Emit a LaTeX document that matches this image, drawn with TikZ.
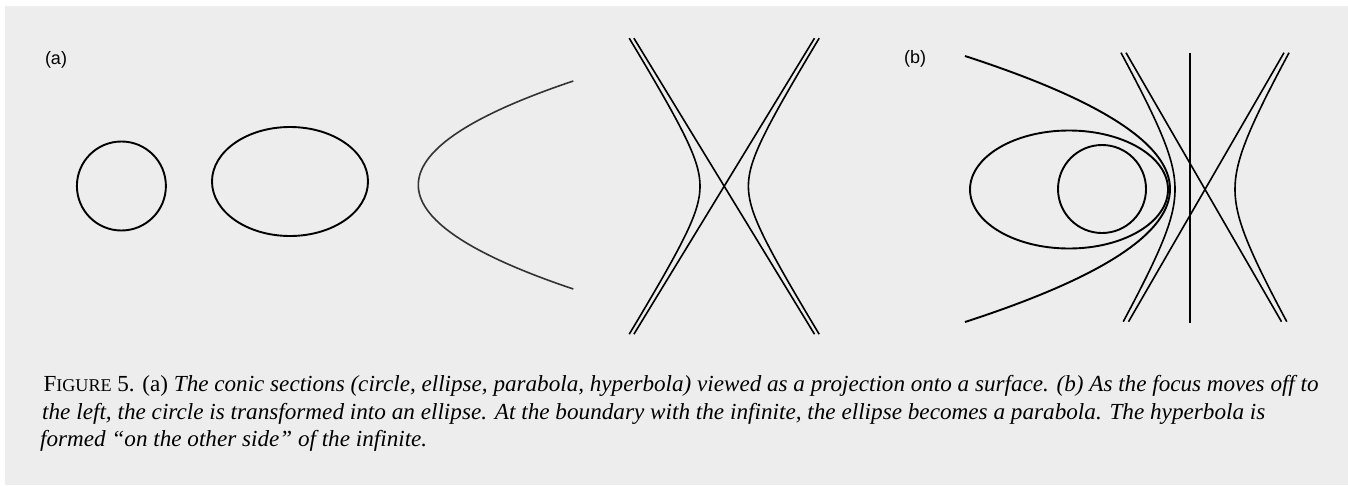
\documentclass[tikz,border=0pt]{standalone}
\usepackage{fontspec}
\usepackage{graphicx}
\setmainfont{Liberation Serif}
\newfontfamily\labelfont{Liberation Sans}
\definecolor{bg}{HTML}{EDEDED}
\definecolor{pargray}{HTML}{333333}
\tikzset{
  curve/.style={line width=1.9pt, black},
  thincurve/.style={line width=1.6pt, black},
  parab/.style={line width=1.6pt, pargray},
  panellabel/.style={font=\labelfont\fontsize{18}{21}\selectfont, inner sep=0pt},
  capline/.style={anchor=base west, inner sep=0pt, font=\fontsize{23}{27}\selectfont}
}
\begin{document}
\begin{tikzpicture}[x=1pt,y=-1pt]
\useasboundingbox (0,0) rectangle (1348,485);
\fill[white] (0,0) rectangle (1348,485);
\fill[bg] (5,6) rectangle (1348,485);

% panel labels
\node[panellabel] (la) at (56,60) {(a)};
\node[panellabel] (lb) at (915,59) {(b)};

% ---------- panel (a) ----------
\draw[curve] (121.4,186) circle [radius=44.5pt];
\draw[curve] (290,181.5) ellipse [x radius=78pt, y radius=54.5pt];
\draw[parab] plot[domain=-104:104, samples=80, variable=\t] ({418.3+(0.11971*\t)*(0.11971*\t)},{185+\t});
% hyperbola (a)
\draw[thincurve] plot[domain=-148:148, samples=100, variable=\t] ({724.2-24.2*sqrt(1+(\t/39)*(\t/39))},{186.2+\t});
\draw[thincurve] plot[domain=-148:148, samples=100, variable=\t] ({724.2+24.2*sqrt(1+(\t/39)*(\t/39))},{186.2+\t});
\draw[thincurve] (633.9,38.2) -- (814.5,334.2);
\draw[thincurve] (814.5,38.2) -- (633.9,334.2);

% ---------- panel (b) ----------
\draw[curve] (1069,189.5) ellipse [x radius=99pt, y radius=59pt];
\draw[curve] (1102,189) circle [radius=44pt];
\draw[curve] plot[domain=-133:133, samples=80, variable=\t] ({1170-(0.10766*\t)*(0.10766*\t)},{189+\t});
\draw[line width=2.3pt] (1190.3,52.7) -- (1190.3,322.7);
\draw[thincurve] plot[domain=-136.6:132.4, samples=100, variable=\t] ({1205-30*sqrt(1+(\t/52.2)*(\t/52.2))},{189.3+\t});
\draw[thincurve] plot[domain=-136.6:132.4, samples=100, variable=\t] ({1205+30*sqrt(1+(\t/52.2)*(\t/52.2))},{189.3+\t});
\draw[thincurve] (1126,52.7) -- (1281.5,321.7);
\draw[thincurve] (1284,52.7) -- (1128.5,321.7);

% ---------- caption ----------
\node[capline] (c1) at (43.3,391.7) {\resizebox{1275pt}{\height}{\upshape F{\fontsize{18}{21}\selectfont IGURE} 5. (a) \itshape The conic sections (circle, ellipse, parabola, hyperbola) viewed as a projection onto a surface. (b) As the focus moves off to}};
\node[capline] (c2) at (42,419.3) {\resizebox{1223pt}{\height}{\itshape the left, the circle is transformed into an ellipse. At the boundary with the infinite, the ellipse becomes a parabola. The hyperbola is}};
\node[capline] (c3) at (40,446.7) {\resizebox{387pt}{\height}{\itshape formed “on the other side” of the infinite.}};
\end{tikzpicture}
\end{document}
